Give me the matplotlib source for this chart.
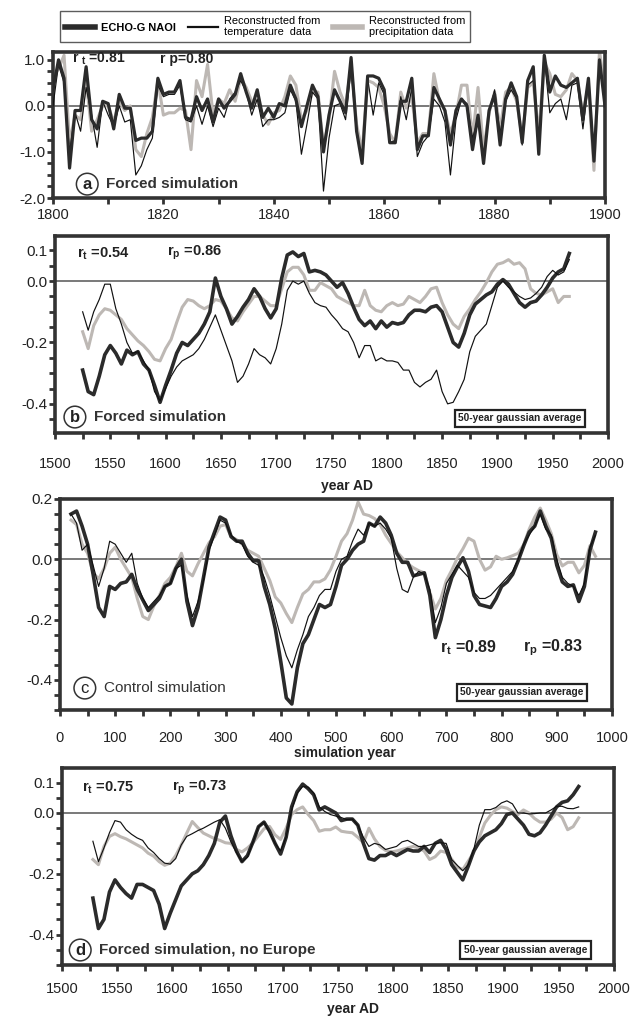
import numpy as np
import matplotlib
matplotlib.use("Agg")
from matplotlib import pyplot as plt
from matplotlib.ticker import MultipleLocator, FixedLocator, FormatStrFormatter

plt.rcParams['font.family'] = ['Liberation Sans', 'DejaVu Sans']
plt.rcParams['mathtext.fontset'] = 'custom'
plt.rcParams['mathtext.rm'] = 'Liberation Sans'
plt.rcParams['mathtext.bf'] = 'Liberation Sans:bold'
plt.rcParams['axes.unicode_minus'] = False

DARK = '#2b2b2b'
GREY = '#bdb8b4'
THIN = '#111111'
EDGE = '#333333'

# ---- panel a: annual values 1800-1900
years_a = np.arange(1800, 1901)
naoi_a = [0.35, 1.0, 0.6, -1.35, -0.1, -0.1, 0.85, -0.3, -0.5, 0.1,
          0.05, -0.5, 0.25, -0.05, -0.05, -0.75, -0.7, -0.7, -0.55, 0.6,
          0.25, 0.3, 0.3, 0.55, -0.25, -0.3, 0.2, -0.1, 0.15, -0.35,
          0.15, -0.05, 0.1, 0.25, 0.7, 0.3, -0.05, 0.35, -0.25, -0.05,
          -0.25, 0.05, 0.0, 0.45, 0.15, -0.45, 0.0, 0.45, 0.2, -1.0,
          -0.2, 0.35, 0.1, -0.15, 1.05, -0.55, -1.25, 0.65, 0.65, 0.6,
          0.35, -0.8, -0.8, 0.1, 0.1, 0.6, -0.95, -0.65, -0.65, 0.4,
          0.15, -0.1, -0.85, -0.1, 0.15, 0.0, -0.95, -0.2, -1.25, -0.1,
          0.25, -0.85, 0.15, 0.5, 0.2, -0.8, 0.55, 0.85, -1.05, 1.1,
          0.3, 0.65, 0.45, 0.4, 0.5, 0.6, -0.3, 0.6, -1.2, 1.0,
          0.0]
temp_a = [0.0, 0.9, 0.5, -1.0, -0.15, -0.55, 0.4, -0.2, -0.9, 0.1,
          -0.2, -0.45, 0.0, -0.35, -0.3, -1.5, -1.3, -0.95, -0.7, 0.45,
          0.2, 0.25, 0.25, 0.45, -0.3, -0.35, 0.0, -0.4, 0.0, -0.45,
          -0.05, -0.25, 0.15, 0.3, 0.55, 0.3, -0.2, 0.15, -0.45, -0.3,
          -0.3, -0.25, -0.15, 0.35, 0.1, -1.05, -0.4, 0.3, 0.15, -1.85,
          -0.7, 0.0, 0.05, -0.3, 0.8, -0.6, -1.2, 0.6, -0.2, 0.5,
          0.25, -0.8, -0.75, 0.2, -0.3, 0.4, -1.1, -0.8, -0.65, 0.15,
          0.0, -0.35, -1.5, -0.3, 0.15, 0.05, -0.7, -0.3, -1.15, -0.15,
          0.35, -0.6, 0.1, 0.35, 0.15, -0.85, 0.45, 0.55, -0.8, 1.05,
          -0.15, 0.05, 0.15, -0.3, 0.45, 0.5, -0.5, 0.5, -0.95, 0.9,
          0.1]
prec_a = [0.6, 0.8, 1.1, -0.8, -0.2, -0.3, 0.55, -0.55, -0.3, 0.0,
          0.0, -0.35, 0.1, -0.1, 0.0, -0.95, -1.1, -0.6, -0.25, 0.55,
          -0.2, -0.15, -0.15, -0.05, -0.1, -0.95, 0.55, 0.2, 0.9, -0.2,
          0.15, 0.05, 0.35, 0.1, 0.6, 0.4, 0.1, 0.1, -0.2, -0.4,
          -0.15, -0.1, 0.2, 0.65, 0.45, -0.3, -0.1, 0.3, 0.3, -0.9,
          -0.3, 0.75, 0.3, 0.0, 0.85, -0.4, -1.0, 0.55, 0.5, 0.4,
          0.0, -0.6, -0.8, 0.3, -0.05, 0.2, -0.8, -0.6, -0.6, 0.7,
          0.1, -0.1, -0.6, -0.2, 0.45, 0.45, -0.7, 0.4, -0.95, -0.15,
          0.3, -0.5, 0.3, 0.4, 0.1, -0.7, 0.4, 0.5, -0.6, 0.95,
          0.7, 0.25, 0.2, 0.35, 0.7, 0.55, -0.2, 0.45, -1.4, 1.2,
          0.3]

# ---- panel b: forced simulation, 50-year gaussian average
years_b = np.arange(1525, 1966, 5)
naoi_b = [-0.29, -0.36, -0.37, -0.31, -0.24, -0.21, -0.235, -0.27, -0.225, -0.24,
          -0.23, -0.27, -0.29, -0.34, -0.395, -0.34, -0.29, -0.235, -0.20, -0.21,
          -0.19, -0.17, -0.14, -0.10, 0.01, -0.05, -0.09, -0.14, -0.115, -0.085,
          -0.06, -0.025, -0.05, -0.09, -0.12, -0.09, 0.01, 0.085, 0.095, 0.08,
          0.09, 0.03, 0.035, 0.03, 0.02, 0.0, -0.02, -0.005, -0.04, -0.085,
          -0.125, -0.145, -0.13, -0.155, -0.13, -0.15, -0.135, -0.14, -0.135, -0.11,
          -0.095, -0.095, -0.10, -0.085, -0.08, -0.10, -0.15, -0.20, -0.215, -0.17,
          -0.11, -0.075, -0.06, -0.045, -0.035, -0.01, 0.005, -0.01, -0.04, -0.07,
          -0.085, -0.07, -0.065, -0.045, -0.02, 0.01, 0.03, 0.04, 0.09]
temp_b = [-0.10, -0.16, -0.10, -0.06, -0.01, -0.01, -0.09, -0.14, -0.20, -0.235,
          -0.23, -0.26, -0.29, -0.36, -0.39, -0.35, -0.31, -0.28, -0.26, -0.25,
          -0.24, -0.22, -0.19, -0.15, -0.11, -0.16, -0.21, -0.26, -0.33, -0.31,
          -0.27, -0.22, -0.24, -0.25, -0.27, -0.22, -0.14, -0.03, 0.0, -0.01,
          0.0, -0.04, -0.07, -0.08, -0.085, -0.11, -0.13, -0.155, -0.165, -0.20,
          -0.25, -0.21, -0.21, -0.26, -0.25, -0.26, -0.26, -0.265, -0.29, -0.29,
          -0.33, -0.345, -0.33, -0.32, -0.29, -0.36, -0.40, -0.395, -0.36, -0.32,
          -0.23, -0.18, -0.16, -0.14, -0.08, -0.02, 0.0, -0.02, -0.035, -0.05,
          -0.06, -0.055, -0.04, -0.02, 0.015, 0.035, 0.02, 0.03, 0.07]
prec_b = [-0.165, -0.22, -0.145, -0.11, -0.09, -0.095, -0.11, -0.125, -0.155, -0.175,
          -0.195, -0.21, -0.23, -0.255, -0.26, -0.22, -0.19, -0.135, -0.085, -0.06,
          -0.065, -0.08, -0.09, -0.08, -0.06, -0.065, -0.09, -0.12, -0.13, -0.10,
          -0.075, -0.05, -0.05, -0.065, -0.08, -0.08, -0.025, 0.03, 0.045, 0.045,
          0.02, -0.03, -0.03, -0.005, -0.015, -0.025, -0.05, -0.06, -0.07, -0.08,
          -0.08, -0.03, -0.08, -0.095, -0.10, -0.08, -0.07, -0.08, -0.075, -0.05,
          -0.06, -0.07, -0.05, -0.025, -0.02, -0.07, -0.11, -0.14, -0.155, -0.115,
          -0.09, -0.06, -0.035, -0.005, 0.03, 0.055, 0.06, 0.07, 0.055, 0.06,
          0.04, -0.025, -0.04, -0.045, -0.035, -0.025, -0.07, -0.05, -0.05]

# ---- panel c: control simulation
years_c = np.arange(20, 971, 10)
naoi_c = [0.15, 0.16, 0.11, 0.05, -0.05, -0.16, -0.19, -0.09, -0.10, -0.08,
          -0.075, -0.05, -0.10, -0.135, -0.17, -0.15, -0.13, -0.09, -0.08, -0.03,
          0.0, -0.14, -0.22, -0.16, -0.06, 0.04, 0.09, 0.14, 0.13, 0.075,
          0.06, 0.06, 0.02, -0.005, -0.005, -0.09, -0.15, -0.23, -0.34, -0.46,
          -0.48, -0.36, -0.28, -0.25, -0.20, -0.15, -0.16, -0.15, -0.09, -0.02,
          0.0, 0.03, 0.05, 0.06, 0.12, 0.11, 0.14, 0.12, 0.08, 0.02,
          -0.01, -0.01, -0.055, -0.05, -0.045, -0.12, -0.26, -0.20, -0.12, -0.06,
          -0.025, 0.005, -0.04, -0.12, -0.15, -0.155, -0.16, -0.13, -0.09, -0.075,
          -0.05, -0.005, 0.045, 0.09, 0.11, 0.16, 0.11, 0.07, -0.02, -0.075,
          -0.09, -0.085, -0.14, -0.09, 0.03, 0.09]
temp_c = [0.15, 0.12, 0.03, 0.05, -0.02, -0.09, -0.03, 0.06, 0.05, 0.02,
          -0.01, 0.02, -0.08, -0.13, -0.16, -0.14, -0.12, -0.09, -0.08, -0.03,
          -0.02, -0.12, -0.19, -0.14, -0.07, 0.03, 0.08, 0.13, 0.12, 0.08,
          0.06, 0.05, 0.01, -0.01, -0.02, -0.06, -0.12, -0.19, -0.26, -0.32,
          -0.36, -0.30, -0.25, -0.19, -0.16, -0.12, -0.10, -0.10, -0.04, 0.0,
          0.01, 0.06, 0.10, 0.08, 0.12, 0.11, 0.12, 0.10, 0.07, -0.03,
          -0.10, -0.11, -0.06, -0.04, -0.05, -0.10, -0.21, -0.16, -0.08, -0.05,
          -0.02, -0.04, -0.06, -0.11, -0.13, -0.13, -0.12, -0.10, -0.08, -0.06,
          -0.04, 0.0, 0.05, 0.08, 0.11, 0.15, 0.10, 0.08, 0.0, -0.06,
          -0.08, -0.09, -0.12, -0.08, 0.04, 0.08]
prec_c = [0.13, 0.115, 0.05, 0.02, -0.045, -0.065, -0.03, 0.02, 0.04, 0.0,
          -0.03, -0.06, -0.13, -0.19, -0.20, -0.155, -0.12, -0.08, -0.06, -0.025,
          0.02, -0.04, -0.055, -0.015, 0.02, 0.055, 0.075, 0.11, 0.115, 0.075,
          0.065, 0.05, 0.03, 0.02, 0.01, -0.03, -0.07, -0.125, -0.145, -0.18,
          -0.21, -0.16, -0.115, -0.10, -0.075, -0.075, -0.065, -0.035, 0.01, 0.06,
          0.085, 0.13, 0.19, 0.15, 0.145, 0.135, 0.115, 0.08, 0.053, 0.025,
          0.005, -0.015, -0.028, -0.038, -0.045, -0.11, -0.165, -0.13, -0.07, -0.035,
          0.005, 0.035, 0.07, 0.06, 0.0, -0.036, -0.025, 0.01, 0.0, 0.005,
          0.012, 0.02, 0.048, 0.10, 0.14, 0.17, 0.13, 0.085, 0.015, -0.022,
          -0.01, -0.01, -0.045, -0.02, 0.045, 0.01]

# ---- panel d: forced simulation without European proxies
years_d = np.arange(1528, 1969, 5)
naoi_d = [-0.28, -0.38, -0.35, -0.26, -0.22, -0.245, -0.265, -0.28, -0.235, -0.235,
          -0.245, -0.255, -0.30, -0.38, -0.33, -0.285, -0.24, -0.22, -0.20, -0.19,
          -0.17, -0.14, -0.10, -0.03, -0.01, -0.075, -0.125, -0.16, -0.14, -0.095,
          -0.045, -0.03, -0.06, -0.10, -0.135, -0.08, 0.02, 0.07, 0.095, 0.08,
          0.06, 0.01, 0.02, 0.01, 0.0, -0.025, -0.02, -0.02, -0.04, -0.10,
          -0.15, -0.155, -0.14, -0.14, -0.13, -0.14, -0.13, -0.12, -0.125, -0.125,
          -0.11, -0.13, -0.10, -0.09, -0.12, -0.17, -0.195, -0.22, -0.175, -0.125,
          -0.095, -0.075, -0.065, -0.055, -0.035, -0.005, 0.0, -0.02, -0.04, -0.07,
          -0.075, -0.065, -0.04, -0.01, 0.02, 0.035, 0.04, 0.06, 0.087]
temp_d = [-0.093, -0.16, -0.115, -0.065, -0.025, -0.03, -0.055, -0.07, -0.082, -0.09,
          -0.115, -0.13, -0.15, -0.165, -0.168, -0.15, -0.105, -0.077, -0.068, -0.058,
          -0.05, -0.04, -0.03, -0.022, -0.05, -0.095, -0.13, -0.16, -0.145, -0.095,
          -0.045, -0.03, -0.065, -0.10, -0.125, -0.08, 0.01, 0.065, 0.087, 0.085,
          0.066, 0.02, 0.005, -0.005, -0.01, -0.015, -0.022, -0.02, -0.04, -0.08,
          -0.11, -0.10, -0.105, -0.12, -0.115, -0.11, -0.095, -0.09, -0.10, -0.11,
          -0.11, -0.105, -0.10, -0.098, -0.10, -0.153, -0.172, -0.19, -0.17, -0.12,
          -0.04, 0.011, 0.011, 0.018, 0.033, 0.04, 0.03, 0.0, 0.0, -0.003,
          -0.002, 0.0, 0.0, 0.01, 0.022, 0.022, 0.015, 0.014, 0.02]
prec_d = [-0.153, -0.17, -0.11, -0.077, -0.068, -0.078, -0.085, -0.095, -0.105, -0.115,
          -0.132, -0.142, -0.16, -0.172, -0.165, -0.14, -0.105, -0.066, -0.028, -0.048,
          -0.066, -0.075, -0.084, -0.09, -0.098, -0.10, -0.12, -0.128, -0.115, -0.098,
          -0.075, -0.052, -0.044, -0.072, -0.087, -0.05, -0.005, 0.011, 0.02, -0.005,
          -0.025, -0.06, -0.055, -0.055, -0.046, -0.06, -0.063, -0.065, -0.08, -0.098,
          -0.05, -0.085, -0.11, -0.123, -0.128, -0.125, -0.12, -0.115, -0.11, -0.115,
          -0.125, -0.153, -0.144, -0.125, -0.13, -0.152, -0.178, -0.186, -0.158, -0.13,
          -0.08, -0.033, -0.008, 0.011, 0.02, 0.016, 0.005, -0.005, 0.01, 0.0,
          -0.018, -0.03, -0.03, -0.02, 0.0, -0.015, -0.055, -0.045, -0.016]

labels = ['ECHO-G NAOI', 'Reconstructed from\ntemperature  data',
          'Reconstructed from\nprecipitation data']


def frame(ax, xlim, ylim, xmaj, xmin, ymaj, ymin, xpad):
    ax.set_xlim(xlim)
    ax.set_ylim(ylim)
    ax.xaxis.set_major_locator(MultipleLocator(xmaj))
    ax.xaxis.set_minor_locator(MultipleLocator(xmin))
    ax.yaxis.set_major_locator(FixedLocator(ymaj))
    ax.yaxis.set_minor_locator(MultipleLocator(ymin))
    ax.yaxis.set_major_formatter(FormatStrFormatter('%.1f'))
    for s in ax.spines.values():
        s.set_linewidth(2.6)
        s.set_color(EDGE)
    ax.tick_params(which='both', direction='out', width=2, length=4,
                   color=EDGE, labelsize=11, labelcolor='#222222')
    ax.tick_params(axis='y', pad=1.5)
    ax.tick_params(axis='x', pad=xpad, labelsize=10.5)
    ax.axhline(0, color='#555555', lw=1.1, zorder=1)


def series(ax, x, naoi, temp, prec, lw_dark=2.2):
    ax.plot(x, prec, color=GREY, lw=2.2, zorder=2)
    ax.plot(x, naoi, color=DARK, lw=lw_dark, zorder=3)
    ax.plot(x, temp, color=THIN, lw=0.85, zorder=4)


def panel_label(ax, x, y, letter, title, weight='bold'):
    ax.text(x, y, letter, transform=ax.transAxes, ha='center', va='center',
            fontsize=12, fontweight=weight, color='#222222', zorder=6,
            bbox=dict(boxstyle='circle,pad=0.2', fc='white', ec=EDGE, lw=1.1))
    ax.text(x + 0.034, y, title, transform=ax.transAxes, ha='left', va='center',
            fontsize=11, fontweight=weight, color='#333333', zorder=6)


def gauss_box(ax, x, y):
    ax.text(x, y, '50-year gaussian average', transform=ax.transAxes,
            ha='center', va='center', fontsize=7.3, fontweight='bold',
            color='#222222', zorder=6,
            bbox=dict(boxstyle='square,pad=0.35', fc='white', ec='#222222', lw=1.6))


def corr(ax, x1, x2, y, rt, rp, size=10.5):
    ax.text(x1, y, r'$\mathbf{r_t}$ =%s' % rt, transform=ax.transAxes,
            ha='left', va='center', fontsize=size, fontweight='bold', color='#222222')
    ax.text(x2, y, r'$\mathbf{r_p}$ =%s' % rp, transform=ax.transAxes,
            ha='left', va='center', fontsize=size, fontweight='bold', color='#222222')


fig = plt.figure(figsize=(6.33, 10.19), dpi=100)

# panel a
ax_a = fig.add_axes([53/633, 1-198/1019, 552/633, 146/1019])
ax_a.plot(years_a, prec_a, color=GREY, lw=2.2, zorder=2)
ax_a.plot(years_a, naoi_a, color=DARK, lw=2.3, zorder=4)
ax_a.plot(years_a, temp_a, color=THIN, lw=0.85, zorder=3)
frame(ax_a, (1800, 1900), (-2.0, 1.17), 20, 10, [-2.0, -1.0, 0.0, 1.0], 0.25, 3)
ax_a.text(0.034, 0.955, r'r $\mathbf{_t}$ =0.81', transform=ax_a.transAxes,
          ha='left', va='center', fontsize=10, fontweight='bold', color='#222222')
ax_a.text(0.194, 0.955, 'r p=0.80', transform=ax_a.transAxes,
          ha='left', va='center', fontsize=10, fontweight='bold', color='#222222')
panel_label(ax_a, 0.062, 0.095, 'a', 'Forced simulation')

# legend on top
h_grey = plt.Line2D([], [], color=GREY, lw=4)
h_leg_dark = plt.Line2D([], [], color=DARK, lw=4)
h_leg_thin = plt.Line2D([], [], color=THIN, lw=1.6)
leg = fig.legend([h_leg_dark, h_leg_thin, h_grey], labels, loc='upper left',
                 bbox_to_anchor=(55/633, 1-6/1019), ncol=3, frameon=True,
                 fancybox=False, edgecolor=EDGE, fontsize=7.9,
                 handlelength=2.7, handletextpad=0.6, columnspacing=1.1,
                 borderpad=0.4)
leg.get_frame().set_linewidth(1.0)
leg.get_texts()[0].set_fontweight('bold')

# panel b
ax_b = fig.add_axes([55/633, 1-433/1019, 553/633, 197/1019])
series(ax_b, years_b, naoi_b, temp_b, prec_b, lw_dark=2.6)
frame(ax_b, (1500, 2000), (-0.495, 0.147), 50, 25, [-0.4, -0.2, 0.0, 0.1], 0.05, 13)
ax_b.set_xlabel('year AD', fontsize=10, fontweight='bold', color='#222222')
ax_b.xaxis.set_label_coords(0.528, -0.235)
corr(ax_b, 0.04, 0.203, 0.912, '0.54', '0.86')
panel_label(ax_b, 0.036, 0.081, 'b', 'Forced simulation')
gauss_box(ax_b, 0.841, 0.074)

# panel c
ax_c = fig.add_axes([60/633, 1-710/1019, 552/633, 211/1019])
series(ax_c, years_c, naoi_c, temp_c, prec_c, lw_dark=2.6)
frame(ax_c, (0, 1000), (-0.5, 0.2), 100, 50, [-0.4, -0.2, 0.0, 0.2], 0.05, 11)
ax_c.set_xlabel('simulation year', fontsize=10, fontweight='bold', color='#222222')
ax_c.xaxis.set_label_coords(0.516, -0.17)
corr(ax_c, 0.688, 0.839, 0.294, '0.89', '0.83', size=11.5)
panel_label(ax_c, 0.045, 0.104, 'c', 'Control simulation', weight='normal')
gauss_box(ax_c, 0.837, 0.083)

# panel d
ax_d = fig.add_axes([62/633, 1-965/1019, 552/633, 197/1019])
series(ax_d, years_d, naoi_d, temp_d, prec_d, lw_dark=2.6)
frame(ax_d, (1500, 2000), (-0.5, 0.148), 50, 25, [-0.4, -0.2, 0.0, 0.1], 0.05, 8)
ax_d.set_xlabel('year AD', fontsize=10, fontweight='bold', color='#222222')
ax_d.xaxis.set_label_coords(0.527, -0.19)
corr(ax_d, 0.036, 0.199, 0.898, '0.75', '0.73')
panel_label(ax_d, 0.033, 0.076, 'd', 'Forced simulation, no Europe')
gauss_box(ax_d, 0.84, 0.076)

fig.savefig('out.png', dpi=100)
